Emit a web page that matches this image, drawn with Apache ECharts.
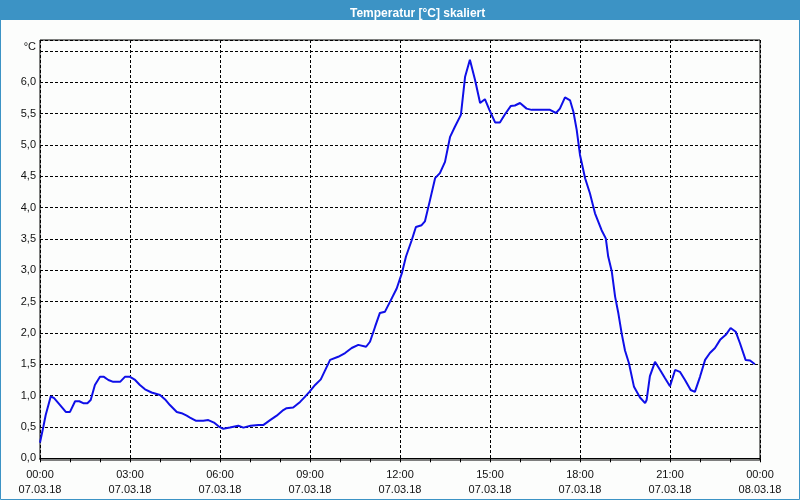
<!DOCTYPE html>
<html>
<head>
<meta charset="utf-8">
<script src="https://cdn.jsdelivr.net/npm/echarts@6/dist/echarts.min.js"></script>
<style>
html,body{margin:0;padding:0;background:#fcfdfc;}
#chart{width:800px;height:500px;}
</style>
</head>
<body>
<div id="chart"></div>
<script>
// Hours since 07.03.18 00:00
const hours = [
  0.00, 0.11, 0.19, 0.36, 0.47, 0.67, 0.86, 1.00, 1.17, 1.31, 1.44, 1.58, 1.69, 1.83,
  2.00, 2.13, 2.28, 2.44, 2.67, 2.83, 3.00, 3.17, 3.33, 3.50, 3.72, 4.00, 4.17, 4.33,
  4.56, 4.72, 4.89, 5.00, 5.19, 5.44, 5.61, 5.80, 5.98, 6.11, 6.33, 6.61, 6.78, 7.02,
  7.28, 7.44, 7.67, 7.89, 8.11, 8.22, 8.44, 8.67, 8.83, 8.98, 9.17, 9.36, 9.67, 9.94,
  10.17, 10.39, 10.61, 10.87, 11.00, 11.17, 11.33, 11.50, 11.67, 11.89, 12.06, 12.20,
  12.39, 12.53, 12.72, 12.83, 13.00, 13.17, 13.33, 13.50, 13.67, 13.83, 14.03, 14.17,
  14.33, 14.50, 14.67, 14.83, 14.98, 15.17, 15.33, 15.50, 15.69, 15.83, 16.00, 16.22,
  16.39, 17.00, 17.20, 17.33, 17.50, 17.67, 17.78, 17.89, 18.00, 18.17, 18.33, 18.50,
  18.72, 18.86, 18.94, 19.06, 19.17, 19.28, 19.39, 19.50, 19.63, 19.80, 20.00, 20.17,
  20.22, 20.33, 20.50, 20.67, 20.83, 21.00, 21.17, 21.33, 21.50, 21.69, 21.83, 22.00,
  22.17, 22.33, 22.50, 22.67, 22.86, 23.02, 23.19, 23.33, 23.52, 23.67, 23.83
];
const temps = [
  0.25, 0.50, 0.69, 0.99, 0.96, 0.85, 0.74, 0.74, 0.91, 0.91, 0.88, 0.88, 0.93, 1.17,
  1.30, 1.30, 1.25, 1.22, 1.22, 1.30, 1.30, 1.25, 1.17, 1.10, 1.05, 1.01, 0.94, 0.85,
  0.74, 0.72, 0.68, 0.65, 0.60, 0.60, 0.61, 0.57, 0.50, 0.47, 0.49, 0.52, 0.49, 0.52,
  0.53, 0.53, 0.61, 0.68, 0.77, 0.80, 0.81, 0.90, 0.98, 1.06, 1.17, 1.26, 1.57, 1.62,
  1.68, 1.76, 1.81, 1.78, 1.86, 2.10, 2.32, 2.34, 2.50, 2.71, 2.95, 3.22,
  3.48, 3.69, 3.72, 3.78, 4.12, 4.47, 4.55, 4.73, 5.13, 5.29, 5.48, 6.09,
  6.36, 6.04, 5.67, 5.73, 5.56, 5.36, 5.36, 5.49, 5.62, 5.63, 5.67, 5.58,
  5.56, 5.56, 5.51, 5.58, 5.76, 5.71, 5.53, 5.24, 4.84, 4.47, 4.23, 3.91,
  3.64, 3.51, 3.22, 2.98, 2.58, 2.31, 1.99, 1.72, 1.52, 1.14, 0.97, 0.88,
  0.93, 1.31, 1.54, 1.41, 1.28, 1.15, 1.41, 1.38, 1.25, 1.09, 1.06, 1.30,
  1.57, 1.68, 1.76, 1.89, 1.97, 2.08, 2.02, 1.84, 1.57, 1.56, 1.50
];
const xTickHours = [0, 3, 6, 9, 12, 15, 18, 21, 24];
const xTickLabels = [
  '00:00\n07.03.18', '03:00\n07.03.18', '06:00\n07.03.18', '09:00\n07.03.18',
  '12:00\n07.03.18', '15:00\n07.03.18', '18:00\n07.03.18', '21:00\n07.03.18',
  '00:00\n08.03.18'
];
const yLabelValues = [0, 0.5, 1, 1.5, 2, 2.5, 3, 3.5, 4, 4.5, 5, 5.5, 6];
const titleText = 'Temperatur [°C] skaliert';
const unitText = '°C';

const chart = echarts.init(document.getElementById('chart'), null, {renderer: 'canvas'});
const font = 'Liberation Sans, Arial, sans-serif';
const dash = {color: '#000', width: 1, type: [3, 2]};

chart.setOption({
  backgroundColor: '#fcfdfc',
  animation: false,
  title: {
    text: titleText,
    left: 345, top: 3,
    textStyle: {color: '#fff', fontSize: 12, fontWeight: 'bold', fontFamily: font}
  },
  graphic: [
    {type: 'rect', shape: {x: 0, y: 0, width: 800, height: 20}, style: {fill: '#3c93c5'}, z: -1},
    {type: 'rect', shape: {x: 0.5, y: 0.5, width: 799, height: 499}, style: {fill: null, stroke: '#3c93c5', lineWidth: 1}, z: -1}
  ],
  grid: [
    {left: 40, right: 40, top: 40, bottom: 41.7, show: false},
    {left: 40, right: 40, top: 40, bottom: 40, show: true, borderColor: '#000', borderWidth: 1, backgroundColor: 'transparent'}
  ],
  xAxis: [
    {
      type: 'value', gridIndex: 0, min: 0, max: 24, interval: 3, offset: 1.7,
      axisLine: {show: true, lineStyle: {color: '#000'}},
      axisTick: {show: true, length: 4, lineStyle: {color: '#000'}},
      minorTick: {show: true, splitNumber: 3, length: 4, lineStyle: {color: '#000'}},
      axisLabel: {
        margin: 7, lineHeight: 15, color: '#111', fontSize: 11, fontFamily: font,
        formatter: v => {
          const i = xTickHours.indexOf(Math.round(v));
          return i >= 0 ? xTickLabels[i] : '';
        }
      },
      splitLine: {show: true, lineStyle: dash}
    },
    {type: 'value', gridIndex: 1, min: 0, max: 24, show: false}
  ],
  yAxis: [
    {
      type: 'value', gridIndex: 0, min: 0, max: 6.675, interval: 0.5,
      name: unitText, nameLocation: 'end', nameGap: -7,
      nameTextStyle: {align: 'right', verticalAlign: 'middle', padding: [0, 4, 0, 0], color: '#111', fontSize: 11, fontFamily: font},
      axisLine: {show: false},
      axisTick: {show: false},
      axisLabel: {
        margin: 4, color: '#111', fontSize: 11, fontFamily: font,
        formatter: v => {
          const r = Math.round(v * 10) / 10;
          return yLabelValues.some(t => Math.abs(t - r) < 1e-6) && Math.abs(v - r) < 1e-6 ? r.toFixed(1).replace('.', ',') : '';
        }
      },
      splitLine: {show: true, lineStyle: dash}
    },
    {type: 'value', gridIndex: 1, min: 0, max: 1, show: false}
  ],
  series: [{
    type: 'line',
    xAxisIndex: 0, yAxisIndex: 0,
    data: hours.map((h, i) => [h, temps[i]]),
    showSymbol: false,
    symbol: 'none',
    smooth: false,
    lineStyle: {color: '#0f0fe8', width: 2},
    z: 5
  }]
});
</script>
</body>
</html>
